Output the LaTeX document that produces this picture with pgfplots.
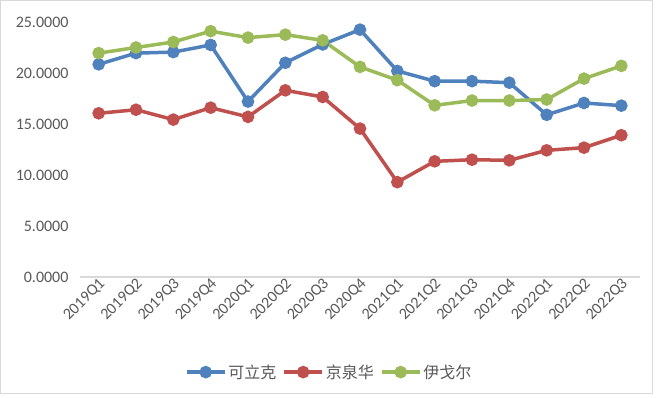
\documentclass[border=0pt]{standalone}
\usepackage{fontspec}
\setmainfont{Carlito}
\newfontfamily\cjk{Noto Sans CJK SC}
\usepackage{pgfplots}
\pgfplotsset{compat=1.18}
\definecolor{cblue}{HTML}{4F81BD}
\definecolor{cred}{HTML}{C0504D}
\definecolor{cgreen}{HTML}{9BBB59}
\definecolor{ctext}{HTML}{595959}
\definecolor{cgrid}{HTML}{D9D9D9}
\pgfplotstableread{
x a b c
0 20.85 16.05 21.95
1 21.95 16.40 22.50
2 22.05 15.43 23.04
3 22.75 16.60 24.10
4 17.20 15.70 23.47
5 21.00 18.30 23.76
6 22.80 17.65 23.20
7 24.25 14.55 20.60
8 20.20 9.30 19.30
9 19.20 11.34 16.83
10 19.20 11.50 17.30
11 19.05 11.44 17.30
12 15.90 12.42 17.40
13 17.06 12.68 19.45
14 16.80 13.90 20.70
}\data
\begin{document}
\begin{tikzpicture}
\path[use as bounding box] (0,0) rectangle (660pt,397pt);
\fill[white] (0,0) rectangle (660pt,397pt);
\draw[cgrid, line width=1pt] (0.5pt,4pt) rectangle (652pt,396.5pt);
\begin{axis}[
  at={(80pt,120pt)}, anchor=south west, scale only axis,
  width=560pt, height=255pt,
  xmin=-0.5, xmax=14.5, ymin=0, ymax=25,
  axis lines*=left,
  y axis line style={draw=none},
  x axis line style={draw=cgrid, line width=1.2pt, -},
  tick style={draw=none},
  major tick length=0pt,
  xtick={0,...,14},
  xticklabels={2019Q1,2019Q2,2019Q3,2019Q4,2020Q1,2020Q2,2020Q3,2020Q4,2021Q1,2021Q2,2021Q3,2021Q4,2022Q1,2022Q2,2022Q3},
  ytick={0,5,10,15,20,25},
  yticklabels={0.0000,5.0000,10.0000,15.0000,20.0000,25.0000},
  ticklabel style={font=\fontsize{16pt}{19pt}\selectfont, text=ctext},
  yticklabel style={xshift=-8pt},
  xticklabel style={rotate=45, anchor=east, yshift=-6pt, xshift=3pt},
  legend columns=3,
  legend style={at={(0.445,-0.373)}, anchor=center, draw=none, fill=none,
    font=\fontsize{16pt}{19pt}\selectfont\cjk, text=ctext,
    /tikz/every even column/.append style={column sep=4pt},
    inner sep=1pt},
  legend image code/.code={\draw[mark repeat=2,mark phase=2,#1] plot coordinates {(0pt,0pt) (19pt,0pt) (38pt,0pt)};},
  every axis plot/.append style={line width=3.5pt, mark=*, mark size=4.5pt},
]
\addplot[cblue, mark options={fill=cblue, draw=cblue}] table[x=x,y=a] {\data};
\addplot[cred, mark options={fill=cred, draw=cred}] table[x=x,y=b] {\data};
\addplot[cgreen, mark options={fill=cgreen, draw=cgreen}] table[x=x,y=c] {\data};
\legend{可立克,京泉华,伊戈尔}
\end{axis}
\end{tikzpicture}
\end{document}
